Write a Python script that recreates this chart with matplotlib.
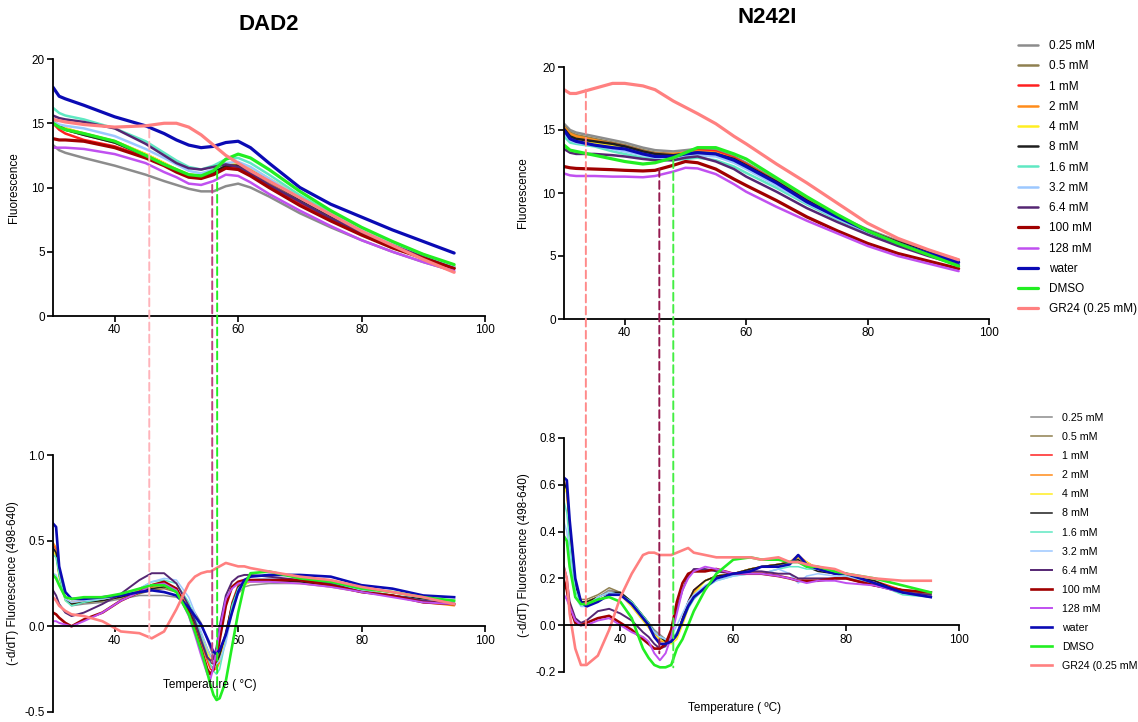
import matplotlib
matplotlib.use('Agg')
import matplotlib.pyplot as plt
from matplotlib.patches import ConnectionPatch
from matplotlib.transforms import blended_transform_factory

plt.rcParams['font.family'] = ['Liberation Sans', 'DejaVu Sans']
plt.rcParams['axes.unicode_minus'] = False

# series, in legend order
labels = ['0.25 mM', '0.5 mM', '1 mM', '2 mM', '4 mM', '8 mM', '1.6 mM', '3.2 mM',
          '6.4 mM', '100 mM', '128 mM', 'water', 'DMSO', 'GR24 (0.25 mM)']
labels_bottom = labels[:-1] + ['GR24 (0.25 mM']
colors = ['#8c8c8c', '#8f8050', '#ff2020', '#ff8c1a', '#ffee22', '#1e1e1e', '#5fe8c2',
          '#9cc8ff', '#552673', '#a00000', '#c050f0', '#0a0ab4', '#22ee22', '#ff8080']

# melt curves (fluorescence)
t_melt_dad2 = [30, 31, 32, 35, 40, 45, 48, 50, 52, 54, 56, 58, 60, 62, 65, 70, 75, 80, 85, 90, 95]
dad2_melt = [
    [13.3, 12.9, 12.7, 12.3, 11.7, 11.0, 10.5, 10.2, 9.9, 9.7, 9.7, 10.1, 10.3, 10.0, 9.3, 8.0, 6.9, 5.9, 5.0, 4.2, 3.5],
    [15.0, 14.7, 14.5, 14.1, 13.5, 12.5, 11.8, 11.3, 10.9, 10.8, 11.1, 11.6, 11.6, 11.2, 10.4, 9.0, 7.7, 6.5, 5.5, 4.6, 3.7],
    [15.0, 14.5, 14.2, 13.7, 13.2, 12.4, 11.8, 11.3, 10.9, 10.8, 11.1, 11.6, 11.5, 11.0, 10.2, 8.8, 7.6, 6.5, 5.5, 4.6, 3.7],
    [15.2, 14.8, 14.6, 14.2, 13.6, 12.6, 11.9, 11.4, 11.0, 10.9, 11.2, 11.8, 11.8, 11.4, 10.6, 9.2, 7.9, 6.7, 5.6, 4.7, 3.8],
    [15.0, 14.8, 14.6, 14.2, 13.6, 12.6, 11.9, 11.4, 11.0, 10.9, 11.3, 11.9, 11.9, 11.5, 10.7, 9.3, 7.9, 6.7, 5.7, 4.8, 3.9],
    [15.1, 14.8, 14.5, 14.1, 13.5, 12.5, 11.8, 11.3, 10.9, 10.9, 11.2, 11.7, 11.7, 11.3, 10.5, 9.1, 7.8, 6.6, 5.6, 4.7, 3.8],
    [16.2, 15.8, 15.6, 15.3, 14.6, 13.6, 12.7, 12.1, 11.6, 11.4, 11.7, 12.2, 12.3, 11.9, 11.0, 9.4, 8.0, 6.7, 5.7, 4.7, 3.8],
    [15.1, 14.9, 14.8, 14.6, 14.0, 13.0, 12.3, 11.8, 11.3, 11.1, 11.4, 11.9, 12.0, 11.6, 10.7, 9.2, 7.9, 6.7, 5.6, 4.7, 3.8],
    [15.6, 15.4, 15.3, 15.1, 14.6, 13.4, 12.5, 11.9, 11.5, 11.4, 11.6, 11.8, 11.6, 11.1, 10.2, 8.9, 7.6, 6.5, 5.5, 4.6, 3.7],
    [13.8, 13.7, 13.7, 13.6, 13.1, 12.3, 11.7, 11.2, 10.8, 10.7, 11.0, 11.5, 11.4, 10.9, 10.0, 8.6, 7.4, 6.3, 5.3, 4.5, 3.7],
    [13.1, 13.1, 13.1, 13.0, 12.6, 11.9, 11.2, 10.8, 10.3, 10.2, 10.5, 11.0, 10.9, 10.4, 9.5, 8.2, 7.0, 5.9, 5.0, 4.2, 3.5],
    [17.8, 17.1, 16.9, 16.4, 15.5, 14.8, 14.2, 13.7, 13.3, 13.1, 13.2, 13.5, 13.6, 13.1, 11.9, 10.0, 8.7, 7.7, 6.7, 5.8, 4.9],
    [15.0, 14.7, 14.5, 14.2, 13.6, 12.5, 11.8, 11.4, 11.0, 10.9, 11.3, 12.2, 12.6, 12.3, 11.4, 9.7, 8.2, 6.9, 5.8, 4.8, 4.0],
    [15.3, 15.2, 15.1, 14.9, 14.7, 14.8, 15.0, 15.0, 14.7, 14.1, 13.3, 12.5, 11.9, 11.3, 10.5, 9.2, 7.9, 6.6, 5.5, 4.4, 3.4],
]

t_melt_n242i = [30, 31, 32, 35, 38, 40, 43, 45, 48, 50, 52, 55, 58, 60, 65, 70, 75, 80, 85, 90, 95]
n242i_melt = [
    [15.5, 15.0, 14.8, 14.5, 14.2, 14.0, 13.6, 13.4, 13.3, 13.4, 13.5, 13.4, 12.9, 12.4, 11.0, 9.5, 8.2, 7.1, 6.2, 5.4, 4.7],
    [15.3, 14.8, 14.6, 14.3, 14.0, 13.8, 13.4, 13.2, 13.1, 13.2, 13.4, 13.3, 12.8, 12.3, 10.9, 9.4, 8.1, 7.0, 6.1, 5.3, 4.6],
    [15.1, 14.6, 14.4, 14.1, 13.9, 13.7, 13.3, 13.1, 13.0, 13.2, 13.4, 13.3, 12.8, 12.3, 10.9, 9.4, 8.1, 7.0, 6.1, 5.3, 4.6],
    [15.2, 14.7, 14.5, 14.2, 13.9, 13.7, 13.3, 13.1, 13.1, 13.2, 13.3, 13.2, 12.7, 12.2, 10.9, 9.4, 8.1, 7.0, 6.1, 5.3, 4.6],
    [15.0, 14.5, 14.3, 14.0, 13.8, 13.6, 13.2, 13.0, 12.9, 13.0, 13.2, 13.1, 12.6, 12.1, 10.8, 9.3, 8.1, 7.0, 6.0, 5.2, 4.5],
    [15.1, 14.5, 14.3, 14.1, 13.9, 13.7, 13.3, 13.1, 13.0, 13.1, 13.2, 13.1, 12.7, 12.2, 10.9, 9.4, 8.1, 7.0, 6.1, 5.3, 4.6],
    [14.5, 14.0, 13.9, 13.7, 13.3, 13.1, 12.8, 12.7, 12.6, 12.7, 12.8, 12.6, 12.1, 11.6, 10.4, 9.1, 7.9, 6.9, 5.9, 5.1, 4.3],
    [14.8, 14.2, 14.0, 13.8, 13.5, 13.3, 13.0, 12.8, 12.8, 12.9, 13.0, 12.9, 12.4, 11.9, 10.6, 9.2, 8.0, 6.9, 6.0, 5.2, 4.4],
    [13.5, 13.2, 13.1, 13.1, 13.0, 12.9, 12.7, 12.6, 12.6, 12.8, 12.9, 12.5, 11.9, 11.3, 10.1, 8.8, 7.7, 6.7, 5.8, 5.0, 4.3],
    [12.1, 12.0, 11.95, 11.9, 11.85, 11.8, 11.75, 11.8, 12.2, 12.5, 12.4, 11.9, 11.1, 10.6, 9.4, 8.1, 7.0, 6.0, 5.2, 4.6, 4.0],
    [11.55, 11.4, 11.35, 11.35, 11.3, 11.3, 11.25, 11.35, 11.7, 12.0, 11.95, 11.5, 10.7, 10.1, 8.9, 7.8, 6.8, 5.8, 5.0, 4.4, 3.8],
    [15.0, 14.3, 14.1, 13.8, 13.6, 13.5, 13.1, 12.9, 12.9, 13.1, 13.2, 13.1, 12.6, 12.1, 10.8, 9.3, 8.1, 7.0, 6.0, 5.2, 4.5],
    [13.8, 13.4, 13.3, 13.0, 12.7, 12.5, 12.3, 12.4, 12.8, 13.2, 13.6, 13.6, 13.1, 12.7, 11.2, 9.7, 8.3, 7.0, 6.0, 5.1, 4.2],
    [18.2, 17.9, 17.9, 18.3, 18.7, 18.7, 18.5, 18.2, 17.3, 16.8, 16.3, 15.5, 14.5, 13.9, 12.3, 10.8, 9.2, 7.6, 6.4, 5.5, 4.7],
]

# first derivative, (-d/dT) fluorescence
t_deriv_dad2 = [30, 30.5, 31, 32, 33, 35, 38, 41, 44, 46, 48, 50, 52, 53, 54, 55, 55.5, 56, 56.5, 57,
                58, 59, 60, 61, 62, 65, 70, 75, 80, 85, 90, 95]
dad2_deriv = [
    [0.45, 0.42, 0.30, 0.16, 0.12, 0.13, 0.14, 0.16, 0.18, 0.18, 0.18, 0.17, 0.12, 0.08, 0.02, -0.08, -0.13, -0.18, -0.20, -0.19, -0.05, 0.10, 0.19, 0.23, 0.24, 0.25, 0.25, 0.23, 0.20, 0.18, 0.15, 0.14],
    [0.45, 0.42, 0.30, 0.16, 0.13, 0.14, 0.15, 0.17, 0.19, 0.21, 0.22, 0.20, 0.11, 0.04, -0.04, -0.13, -0.17, -0.19, -0.19, -0.16, -0.03, 0.12, 0.21, 0.25, 0.26, 0.27, 0.26, 0.24, 0.20, 0.18, 0.15, 0.14],
    [0.48, 0.45, 0.30, 0.16, 0.13, 0.14, 0.16, 0.18, 0.21, 0.23, 0.25, 0.22, 0.10, 0.02, -0.09, -0.20, -0.25, -0.26, -0.24, -0.20, -0.05, 0.14, 0.24, 0.26, 0.27, 0.27, 0.26, 0.24, 0.21, 0.18, 0.14, 0.13],
    [0.49, 0.46, 0.31, 0.16, 0.14, 0.15, 0.16, 0.18, 0.21, 0.23, 0.24, 0.22, 0.10, 0.01, -0.09, -0.19, -0.23, -0.24, -0.25, -0.21, -0.06, 0.13, 0.23, 0.26, 0.27, 0.27, 0.26, 0.24, 0.21, 0.18, 0.14, 0.12],
    [0.44, 0.41, 0.28, 0.15, 0.13, 0.14, 0.15, 0.17, 0.20, 0.22, 0.23, 0.21, 0.11, 0.03, -0.06, -0.15, -0.19, -0.20, -0.20, -0.20, -0.08, 0.10, 0.21, 0.24, 0.26, 0.26, 0.25, 0.23, 0.20, 0.18, 0.15, 0.13],
    [0.46, 0.43, 0.30, 0.16, 0.13, 0.14, 0.15, 0.17, 0.20, 0.22, 0.23, 0.21, 0.10, 0.02, -0.08, -0.18, -0.21, -0.22, -0.21, -0.17, -0.04, 0.13, 0.23, 0.26, 0.27, 0.27, 0.26, 0.24, 0.20, 0.18, 0.16, 0.15],
    [0.42, 0.40, 0.30, 0.15, 0.12, 0.14, 0.16, 0.18, 0.22, 0.26, 0.27, 0.25, 0.14, 0.05, -0.06, -0.17, -0.22, -0.26, -0.28, -0.25, -0.08, 0.12, 0.22, 0.26, 0.27, 0.28, 0.27, 0.25, 0.21, 0.18, 0.14, 0.13],
    [0.31, 0.30, 0.25, 0.16, 0.14, 0.15, 0.16, 0.18, 0.22, 0.26, 0.28, 0.27, 0.17, 0.08, -0.03, -0.13, -0.17, -0.20, -0.22, -0.20, -0.10, 0.08, 0.20, 0.25, 0.27, 0.28, 0.27, 0.25, 0.21, 0.18, 0.15, 0.14],
    [0.21, 0.18, 0.13, 0.08, 0.06, 0.08, 0.13, 0.19, 0.27, 0.31, 0.31, 0.25, 0.12, 0.03, -0.08, -0.18, -0.20, -0.19, -0.12, 0.00, 0.18, 0.26, 0.29, 0.30, 0.30, 0.29, 0.27, 0.25, 0.20, 0.18, 0.15, 0.13],
    [0.08, 0.07, 0.05, 0.02, 0.00, 0.04, 0.08, 0.15, 0.20, 0.24, 0.26, 0.22, 0.08, -0.02, -0.13, -0.25, -0.28, -0.25, -0.18, -0.08, 0.12, 0.23, 0.26, 0.27, 0.27, 0.27, 0.27, 0.24, 0.20, 0.18, 0.14, 0.13],
    [0.03, 0.03, 0.02, 0.01, 0.00, 0.03, 0.08, 0.15, 0.20, 0.24, 0.25, 0.21, 0.06, -0.05, -0.17, -0.28, -0.31, -0.24, -0.14, -0.02, 0.16, 0.22, 0.25, 0.26, 0.26, 0.26, 0.25, 0.23, 0.20, 0.17, 0.14, 0.13],
    [0.60, 0.58, 0.35, 0.20, 0.16, 0.16, 0.17, 0.18, 0.20, 0.21, 0.20, 0.18, 0.11, 0.06, 0.01, -0.07, -0.11, -0.15, -0.16, -0.14, -0.05, 0.08, 0.20, 0.27, 0.29, 0.30, 0.30, 0.29, 0.24, 0.22, 0.18, 0.17],
    [0.30, 0.28, 0.24, 0.17, 0.16, 0.17, 0.17, 0.19, 0.22, 0.24, 0.24, 0.20, 0.07, -0.03, -0.14, -0.27, -0.34, -0.40, -0.43, -0.42, -0.32, -0.12, 0.08, 0.24, 0.31, 0.32, 0.28, 0.26, 0.22, 0.20, 0.17, 0.15],
    [0.17, 0.15, 0.12, 0.09, 0.07, 0.06, 0.03, -0.03, -0.04, -0.07, -0.03, 0.10, 0.25, 0.29, 0.31, 0.32, 0.32, 0.33, 0.34, 0.35, 0.37, 0.36, 0.35, 0.35, 0.34, 0.32, 0.29, 0.27, 0.23, 0.20, 0.17, 0.13],
]

t_deriv_n242i = [30, 30.5, 31, 32, 33, 34, 35, 36, 38, 40, 42, 44, 45, 46, 47, 48, 49, 50, 51, 52, 53,
                 55, 57, 60, 63, 65, 68, 70, 71.5, 73, 75, 78, 80, 85, 90, 95]
n242i_deriv = [
    [0.62, 0.58, 0.40, 0.15, 0.10, 0.10, 0.11, 0.12, 0.15, 0.14, 0.10, 0.04, 0.01, -0.02, -0.04, -0.06, -0.07, -0.05, 0.02, 0.10, 0.15, 0.19, 0.21, 0.22, 0.23, 0.25, 0.26, 0.27, 0.28, 0.26, 0.25, 0.22, 0.21, 0.18, 0.15, 0.14],
    [0.61, 0.57, 0.40, 0.16, 0.11, 0.11, 0.12, 0.13, 0.16, 0.14, 0.10, 0.04, 0.01, -0.03, -0.05, -0.06, -0.07, -0.05, 0.01, 0.09, 0.14, 0.19, 0.21, 0.22, 0.24, 0.25, 0.26, 0.27, 0.29, 0.26, 0.24, 0.22, 0.21, 0.18, 0.15, 0.13],
    [0.61, 0.57, 0.41, 0.16, 0.10, 0.10, 0.11, 0.12, 0.14, 0.13, 0.09, 0.03, 0.00, -0.04, -0.06, -0.07, -0.07, -0.04, 0.03, 0.10, 0.15, 0.19, 0.21, 0.22, 0.24, 0.25, 0.26, 0.27, 0.29, 0.27, 0.24, 0.22, 0.21, 0.19, 0.15, 0.14],
    [0.62, 0.58, 0.41, 0.16, 0.10, 0.10, 0.11, 0.12, 0.14, 0.13, 0.08, 0.02, -0.01, -0.05, -0.07, -0.07, -0.07, -0.04, 0.02, 0.09, 0.14, 0.19, 0.21, 0.22, 0.24, 0.25, 0.26, 0.27, 0.30, 0.27, 0.24, 0.22, 0.21, 0.18, 0.14, 0.13],
    [0.60, 0.56, 0.40, 0.16, 0.10, 0.10, 0.11, 0.12, 0.14, 0.13, 0.08, 0.02, -0.01, -0.04, -0.06, -0.07, -0.08, -0.06, 0.00, 0.07, 0.13, 0.19, 0.21, 0.22, 0.24, 0.25, 0.26, 0.27, 0.29, 0.27, 0.24, 0.22, 0.21, 0.18, 0.14, 0.13],
    [0.61, 0.58, 0.42, 0.17, 0.10, 0.10, 0.11, 0.12, 0.14, 0.14, 0.10, 0.04, 0.01, -0.03, -0.05, -0.07, -0.07, -0.04, 0.03, 0.10, 0.15, 0.19, 0.21, 0.22, 0.24, 0.25, 0.26, 0.27, 0.28, 0.25, 0.23, 0.22, 0.21, 0.19, 0.14, 0.12],
    [0.53, 0.48, 0.35, 0.15, 0.09, 0.09, 0.10, 0.12, 0.14, 0.13, 0.10, 0.04, 0.01, -0.03, -0.05, -0.06, -0.06, -0.03, 0.02, 0.07, 0.11, 0.16, 0.19, 0.21, 0.22, 0.22, 0.24, 0.25, 0.25, 0.24, 0.24, 0.22, 0.21, 0.18, 0.13, 0.12],
    [0.44, 0.40, 0.30, 0.12, 0.08, 0.08, 0.10, 0.12, 0.14, 0.13, 0.09, 0.03, 0.00, -0.03, -0.05, -0.06, -0.05, 0.00, 0.05, 0.10, 0.13, 0.17, 0.19, 0.21, 0.22, 0.22, 0.24, 0.22, 0.18, 0.21, 0.22, 0.21, 0.21, 0.18, 0.14, 0.13],
    [0.25, 0.20, 0.10, 0.03, 0.01, 0.02, 0.04, 0.06, 0.07, 0.05, 0.02, -0.03, -0.05, -0.08, -0.10, -0.09, -0.03, 0.07, 0.15, 0.21, 0.24, 0.24, 0.23, 0.22, 0.23, 0.23, 0.22, 0.22, 0.20, 0.20, 0.20, 0.20, 0.20, 0.17, 0.14, 0.13],
    [0.19, 0.15, 0.08, 0.01, 0.00, 0.01, 0.02, 0.03, 0.04, 0.01, -0.02, -0.06, -0.08, -0.10, -0.10, -0.08, -0.02, 0.10, 0.18, 0.22, 0.23, 0.23, 0.24, 0.22, 0.22, 0.22, 0.21, 0.20, 0.19, 0.19, 0.19, 0.20, 0.20, 0.17, 0.15, 0.14],
    [0.13, 0.11, 0.08, 0.02, 0.00, 0.00, 0.01, 0.02, 0.03, 0.00, -0.03, -0.05, -0.07, -0.12, -0.15, -0.12, -0.05, 0.05, 0.15, 0.20, 0.23, 0.25, 0.24, 0.22, 0.22, 0.22, 0.21, 0.20, 0.19, 0.18, 0.19, 0.19, 0.18, 0.17, 0.14, 0.12],
    [0.63, 0.62, 0.45, 0.20, 0.10, 0.08, 0.09, 0.10, 0.13, 0.13, 0.09, 0.03, 0.00, -0.05, -0.08, -0.08, -0.07, -0.04, 0.02, 0.08, 0.12, 0.16, 0.20, 0.22, 0.23, 0.25, 0.25, 0.26, 0.30, 0.26, 0.24, 0.22, 0.22, 0.18, 0.14, 0.12],
    [0.38, 0.36, 0.25, 0.12, 0.09, 0.09, 0.10, 0.11, 0.12, 0.10, 0.03, -0.10, -0.14, -0.17, -0.18, -0.18, -0.17, -0.10, -0.06, 0.00, 0.06, 0.15, 0.22, 0.28, 0.29, 0.28, 0.28, 0.27, 0.27, 0.25, 0.25, 0.23, 0.22, 0.20, 0.17, 0.14],
    [0.24, 0.20, 0.05, -0.10, -0.17, -0.17, -0.15, -0.13, -0.02, 0.12, 0.22, 0.30, 0.31, 0.31, 0.30, 0.30, 0.30, 0.31, 0.32, 0.33, 0.31, 0.30, 0.29, 0.29, 0.29, 0.28, 0.29, 0.27, 0.27, 0.26, 0.25, 0.24, 0.22, 0.20, 0.19, 0.19],
]

# Tm guide lines: temperature, top y, bottom y
dad2_tm = [45.6, 55.8, 56.6]
dad2_tm_top = [14.5, 10.2, 11.3]
dad2_tm_bot = [-0.07, -0.22, -0.43]
dad2_tm_colors = ['#ffb3ba', '#c0407f', '#22ee22']
n242i_tm = [33.6, 45.7, 48.0]
n242i_tm_top = [18.2, 11.9, 12.6]
n242i_tm_bot = [-0.17, -0.12, -0.18]
n242i_tm_colors = ['#ff8a8a', '#951a4f', '#44ee44']

W, H = 1138, 722
fig = plt.figure(figsize=(W / 100, H / 100), dpi=100)


def box(x0, y0, x1, y1):
    return [x0 / W, 1 - y1 / H, (x1 - x0) / W, (y1 - y0) / H]


ax_tl = fig.add_axes(box(53, 59, 485, 316))
ax_tr = fig.add_axes(box(564, 67, 989, 319))
ax_bl = fig.add_axes(box(53, 455, 485, 712))
ax_br = fig.add_axes(box(564, 438, 959, 672))

thick = {'water', 'DMSO', 'GR24 (0.25 mM)', '100 mM'}

for ax, t, rows in [(ax_tl, t_melt_dad2, dad2_melt), (ax_tr, t_melt_n242i, n242i_melt)]:
    for lab, col, y in zip(labels, colors, rows):
        ax.plot(t, y, color=col, lw=2.3 if lab in thick else 1.8, label=lab,
                solid_capstyle='round')

for ax, t, rows in [(ax_bl, t_deriv_dad2, dad2_deriv), (ax_br, t_deriv_n242i, n242i_deriv)]:
    for lab0, lab, col, y in zip(labels, labels_bottom, colors, rows):
        lw = 1.9 if lab0 in thick else (1.4 if lab0 in ('6.4 mM', '128 mM') else 1.1)
        ax.plot(t, y, color=col, lw=lw, label=lab)


def style(ax, ylim, yticks, fmt, zero_axis=False):
    ax.spines['right'].set_visible(False)
    ax.spines['top'].set_visible(False)
    for s in ('left', 'bottom'):
        ax.spines[s].set_linewidth(1.3)
    if zero_axis:
        ax.spines['bottom'].set_position(('data', 0))
    ax.set_xlim(30, 100)
    ax.set_ylim(*ylim)
    ax.set_xticks([40, 60, 80, 100])
    ax.set_yticks(yticks)
    ax.set_yticklabels([fmt.format(v) for v in yticks])
    ax.tick_params(direction='out', length=4, width=1.2, labelsize=8.5, pad=2)


style(ax_tl, (0, 20), [0, 5, 10, 15, 20], '{:g}')
style(ax_tr, (0, 20), [0, 5, 10, 15, 20], '{:g}')
style(ax_bl, (-0.5, 1.0), [-0.5, 0.0, 0.5, 1.0], '{:.1f}', zero_axis=True)
style(ax_br, (-0.2, 0.8), [-0.2, 0.0, 0.2, 0.4, 0.6, 0.8], '{:.1f}', zero_axis=True)

ax_tl.set_ylabel('Fluorescence', fontsize=8.5, labelpad=8)
ax_tr.set_ylabel('Fluorescence', fontsize=8.5, labelpad=10)
ax_bl.set_ylabel('(-d/dT) Fluorescence (498-640)', fontsize=8.5, labelpad=4)
ax_br.set_ylabel('(-d/dT) Fluorescence (498-640)', fontsize=8.5, labelpad=4)

ax_tl.text(0.5, 1.136, 'DAD2', transform=ax_tl.transAxes, ha='center', va='center',
           fontsize=16, fontweight='bold')
ax_tr.text(0.478, 1.196, 'N242I', transform=ax_tr.transAxes, ha='center', va='center',
           fontsize=16, fontweight='bold')
ax_bl.text(0.363, 0.105, 'Temperature ( \u00b0C)', transform=ax_bl.transAxes,
           ha='center', va='center', fontsize=8.5)
ax_br.text(0.433, -0.154, 'Temperature ( \u00baC)', transform=ax_br.transAxes,
           ha='center', va='center', fontsize=8.5)

# dashed Tm markers running through both panels of a column
for top, bot, tms, ys0, ys1, cols in [
        (ax_tl, ax_bl, dad2_tm, dad2_tm_top, dad2_tm_bot, dad2_tm_colors),
        (ax_tr, ax_br, n242i_tm, n242i_tm_top, n242i_tm_bot, n242i_tm_colors)]:
    tr_b = blended_transform_factory(top.transData, bot.transData)
    for tm, y0, y1, c in zip(tms, ys0, ys1, cols):
        con = ConnectionPatch(xyA=(tm, y0), coordsA=top.transData,
                              xyB=(tm, y1), coordsB=tr_b,
                              color=c, lw=1.4, linestyle=(0, (4, 2.2)))
        fig.add_artist(con)

h, l = ax_tl.get_legend_handles_labels()
fig.legend(h, l, loc='upper left', bbox_to_anchor=(1018 / W, 1 - 40 / H),
           frameon=False, fontsize=8.5, handlelength=1.7, handletextpad=0.9,
           labelspacing=0.7, borderpad=0, borderaxespad=0)
h, l = ax_bl.get_legend_handles_labels()
fig.legend(h, l, loc='upper left', bbox_to_anchor=(1031 / W, 1 - 413 / H),
           frameon=False, fontsize=7.7, handlelength=2.0, handletextpad=0.9,
           labelspacing=0.85, borderpad=0, borderaxespad=0)

fig.savefig('out.png', dpi=100)
